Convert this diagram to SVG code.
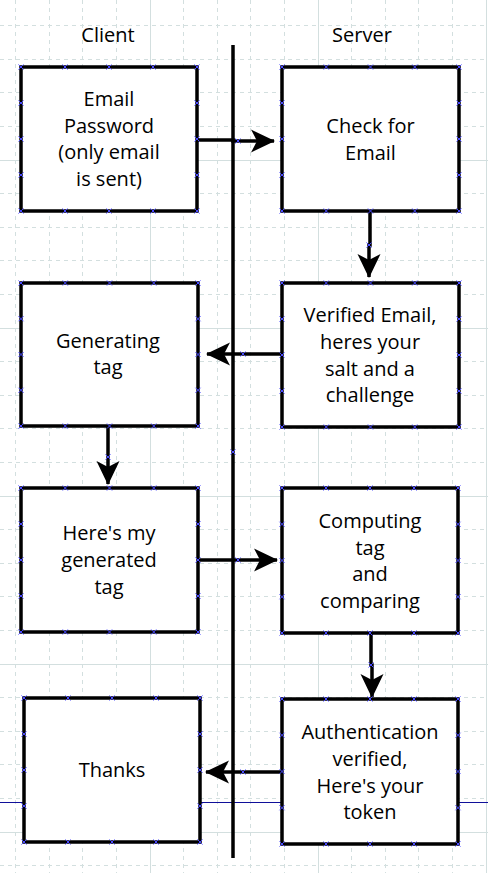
<svg xmlns="http://www.w3.org/2000/svg" xmlns:xlink="http://www.w3.org/1999/xlink" width="488" height="873" viewBox="0 0 488 873">
<style>
.gd{stroke:#d3dfdf;stroke-width:1;stroke-dasharray:4 4;fill:none}
.gs{stroke:#d3dfdf;stroke-width:1;fill:none}
.box{fill:#fff;stroke:#000;stroke-width:3.5}
.pts{fill:none;stroke:none;marker-start:url(#xp);marker-mid:url(#xp);marker-end:url(#xp)}
.xs{fill:none;stroke:#4848ff;stroke-width:1}
.con{fill:none;stroke:#000;stroke-width:3.5;marker-end:url(#ah)}
text{font-family:"Open Sans","DejaVu Sans",sans-serif;font-size:20px;fill:#000;text-anchor:middle}
</style>
<defs>
<marker id="xp" markerUnits="userSpaceOnUse" markerWidth="8" markerHeight="8" viewBox="-4 -4 8 8" refX="0" refY="0" overflow="visible">
<path d="M-2.5,-2.5L2.5,2.5M-2.5,2.5L2.5,-2.5" class="xs"/>
</marker>
<marker id="ah" markerUnits="userSpaceOnUse" markerWidth="30" markerHeight="30" viewBox="-26 -14 30 28" refX="0" refY="0" orient="auto" overflow="visible">
<path d="M1,0 L-23,-11.5 L-17,0 L-23,11.5 Z" fill="#000"/>
</marker>
<path id="xm" d="M-2.5,-2.5L2.5,2.5M-2.5,2.5L2.5,-2.5" class="xs"/>
</defs>
<rect width="488" height="873" fill="#fff"/>
<g id="grid">
<path class="gd" d="M15.5,0V873M49.5,0V873M82.5,0V873M116.5,0V873M183.5,0V873M217.5,0V873M250.5,0V873M284.5,0V873M351.5,0V873M385.5,0V873M418.5,0V873M452.5,0V873"/>
<path class="gd" d="M0,25.5H488M0,59.5H488M0,92.5H488M0,126.5H488M0,193.5H488M0,227.5H488M0,260.5H488M0,294.5H488M0,361.5H488M0,395.5H488M0,428.5H488M0,462.5H488M0,529.5H488M0,563.5H488M0,596.5H488M0,630.5H488M0,697.5H488M0,731.5H488M0,764.5H488M0,798.5H488M0,865.5H488"/>
<path class="gs" d="M150.5,0V873M318.5,0V873M486.5,0V873M0,160.5H488M0,328.5H488M0,496.5H488M0,664.5H488M0,832.5H488"/>
</g>
<line x1="0" y1="802.5" x2="488" y2="802.5" stroke="#10109a" stroke-width="1"/>
<g id="labels">
<text x="108" y="42">Client</text>
<text x="362" y="42">Server</text>
</g>
<g id="lifeline">
<line x1="233" y1="45" x2="233" y2="858" stroke="#000" stroke-width="3.5"/>
<use xlink:href="#xm" x="233" y="452"/>
</g>
<g id="connectors">
<polyline class="con" points="197,140 233,140 233,141 274,141"/>
<polyline class="con" points="370,211 370,245 369,245 369,277"/>
<polyline class="con" points="282,354 207,354"/>
<polyline class="con" points="108,426 108,484"/>
<polyline class="con" points="198,560 277,560"/>
<polyline class="con" points="371,633 371,665 372,665 372,697"/>
<polyline class="con" points="282,772 206,772"/>
<use xlink:href="#xm" x="238" y="141"/>
<use xlink:href="#xm" x="369" y="245"/>
<use xlink:href="#xm" x="243" y="354"/>
<use xlink:href="#xm" x="108" y="457"/>
<use xlink:href="#xm" x="238" y="560"/>
<use xlink:href="#xm" x="371" y="665"/>
<use xlink:href="#xm" x="243" y="772"/>
</g>
<g id="c1">
<rect class="box" x="21" y="67" width="176" height="144"/>
<path class="pts" d="M21,67L65,67L109,67L153,67L197,67L197,103L197,139L197,175L197,211L153,211L109,211L65,211L21,211L21,175L21,139L21,103"/>
<text x="109" y="106">Email</text>
<text x="109" y="132.7">Password</text>
<text x="109" y="159.3">(only email</text>
<text x="109" y="186">is sent)</text>
</g>
<g id="s1">
<rect class="box" x="282" y="67" width="177" height="144"/>
<path class="pts" d="M282,67L326.25,67L370.5,67L414.75,67L459,67L459,103L459,139L459,175L459,211L414.75,211L370.5,211L326.25,211L282,211L282,175L282,139L282,103"/>
<text x="370.5" y="133">Check for</text>
<text x="370.5" y="160">Email</text>
</g>
<g id="c2">
<rect class="box" x="21" y="283" width="177" height="143"/>
<path class="pts" d="M21,283L65.25,283L109.5,283L153.75,283L198,283L198,318.75L198,354.5L198,390.25L198,426L153.75,426L109.5,426L65.25,426L21,426L21,390.25L21,354.5L21,318.75"/>
<text x="108" y="348">Generating</text>
<text x="108" y="374">tag</text>
</g>
<g id="s2">
<rect class="box" x="282" y="283" width="177" height="144"/>
<path class="pts" d="M282,283L326.25,283L370.5,283L414.75,283L459,283L459,319L459,355L459,391L459,427L414.75,427L370.5,427L326.25,427L282,427L282,391L282,355L282,319"/>
<text x="370" y="322.3">Verified Email,</text>
<text x="370" y="349">heres your</text>
<text x="370" y="375.7">salt and a</text>
<text x="370" y="402.3">challenge</text>
</g>
<g id="c3">
<rect class="box" x="21" y="488" width="177" height="144"/>
<path class="pts" d="M21,488L65.25,488L109.5,488L153.75,488L198,488L198,524L198,560L198,596L198,632L153.75,632L109.5,632L65.25,632L21,632L21,596L21,560L21,524"/>
<text x="109" y="540.3">Here's my</text>
<text x="109" y="567">generated</text>
<text x="109" y="593.7">tag</text>
</g>
<g id="s3">
<rect class="box" x="282" y="488" width="176" height="145"/>
<path class="pts" d="M282,488L326,488L370,488L414,488L458,488L458,524.25L458,560.5L458,596.75L458,633L414,633L370,633L326,633L282,633L282,596.75L282,560.5L282,524.25"/>
<text x="370" y="528">Computing</text>
<text x="370" y="554.7">tag</text>
<text x="370" y="581.3">and</text>
<text x="370" y="608">comparing</text>
</g>
<g id="c4">
<rect class="box" x="24" y="698" width="176" height="144"/>
<path class="pts" d="M24,698L68,698L112,698L156,698L200,698L200,734L200,770L200,806L200,842L156,842L112,842L68,842L24,842L24,806L24,770L24,734"/>
<text x="112" y="777">Thanks</text>
</g>
<g id="s4">
<rect class="box" x="282" y="699" width="176" height="145"/>
<path class="pts" d="M282,699L326,699L370,699L414,699L458,699L458,735.25L458,771.5L458,807.75L458,844L414,844L370,844L326,844L282,844L282,807.75L282,771.5L282,735.25"/>
<text x="370" y="739">Authentication</text>
<text x="370" y="766">verified,</text>
<text x="370" y="793">Here's your</text>
<text x="370" y="819">token</text>
</g>
</svg>
